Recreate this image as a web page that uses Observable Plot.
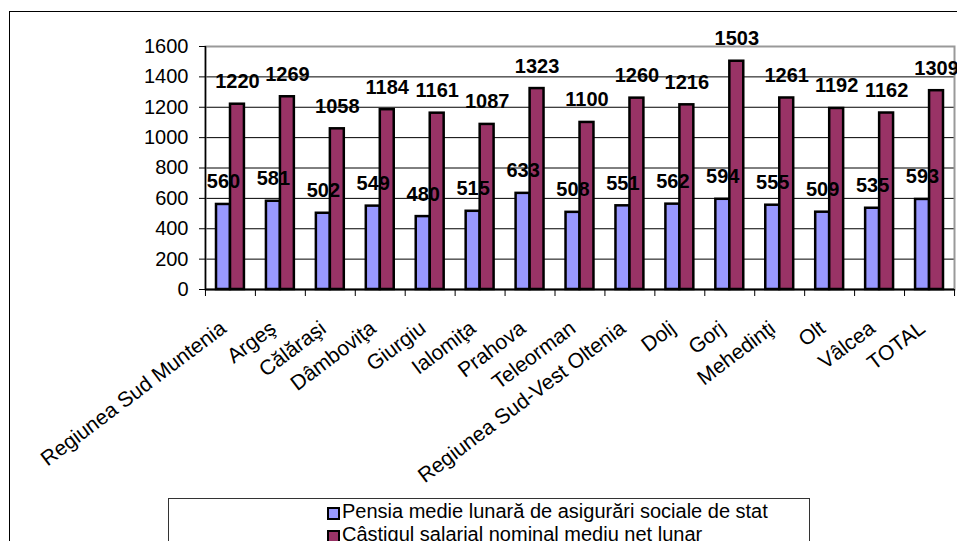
<!DOCTYPE html>
<html><head><meta charset="utf-8">
<script src="https://cdn.jsdelivr.net/npm/d3@7"></script>
<script src="https://cdn.jsdelivr.net/npm/@observablehq/plot@0.6"></script>
<style>
body{margin:0;background:#fff;overflow:hidden;font-family:Arial,"Liberation Sans",sans-serif;}
#wrap{position:relative;width:957px;height:541px;overflow:hidden;}
#chart{position:absolute;left:0;top:0;}
#border{position:absolute;left:9px;top:11px;width:1000px;height:600px;border:1.5px solid #000;box-sizing:border-box;}
#legend{position:absolute;left:168px;top:498px;width:640px;height:80px;border:1px solid #333;background:#fff;}
.txt{position:absolute;left:173px;font-size:20px;line-height:23px;white-space:nowrap;color:#000;}
.sw{position:absolute;left:158px;width:13px;height:13px;border:2px solid #000;box-sizing:border-box;}
</style>
</head><body>
<div id="wrap">
  <div id="border"></div>
  <div id="chart"></div>
  <div id="legend"></div>
</div>
<script>
const categories = ["Regiunea Sud Muntenia","Argeş","Călăraşi","Dâmboviţa","Giurgiu","Ialomiţa","Prahova","Teleorman","Regiunea Sud-Vest Oltenia","Dolj","Gorj","Mehedinţi","Olt","Vâlcea","TOTAL"];
const pensie = [560,581,502,549,480,515,633,508,551,562,594,555,509,535,593];
const salariu = [1220,1269,1058,1184,1161,1087,1323,1100,1260,1216,1503,1261,1192,1162,1309];
const seriesNames = ["Pensia medie lunară de asigurări sociale de stat","Câştigul salarial nominal mediu net lunar"];
const seriesColors = ["#9999FF","#993366"];
const yTicks = [0,200,400,600,800,1000,1200,1400,1600];

const rowsP = categories.map((c,i)=>({cat:c, v:pensie[i]}));
const rowsS = categories.map((c,i)=>({cat:c, v:salariu[i]}));

const H = 541;
const chart = Plot.plot({
  width: 957, height: H,
  marginLeft: 205, marginRight: 3, marginTop: 46, marginBottom: H-289,
  style:{fontFamily:"Arial, 'Liberation Sans', sans-serif", fontSize:"20px", background:"transparent", color:"#000"},
  x:{domain:categories, padding:0, round:false, axis:null},
  y:{domain:[0,1600], axis:null},
  marks:[
    Plot.gridY(yTicks, {stroke:"#000", strokeOpacity:1, strokeWidth:1}),
    Plot.frame({stroke:"#999", strokeWidth:2}),
    Plot.barY(rowsP, {x:"cat", y:"v", fill:seriesColors[0], stroke:"#000", strokeWidth:2.5, insetLeft:11, insetRight:25}),
    Plot.barY(rowsS, {x:"cat", y:"v", fill:seriesColors[1], stroke:"#000", strokeWidth:2.5, insetLeft:25, insetRight:11}),
    Plot.ruleY([0], {stroke:"#000", strokeWidth:2}),
    Plot.ruleX([categories[0]], {dx:-25, stroke:"#000", strokeWidth:1.5}),
    Plot.axisY({ticks:yTicks, tickSize:6, tickPadding:11, fontSize:20, tickFormat:d=>String(d), label:null}),
    Plot.axisX({tickSize:7, tickFormat:()=>"", dx:-25, label:null}),
    Plot.axisX([categories[categories.length-1]], {tickSize:7, tickFormat:()=>"", dx:25, label:null}),
    Plot.axisX({tickSize:0, tickRotate:-37, fontSize:21, dx:-7, dy:24, label:null}),
    Plot.text(rowsP, {x:"cat", y:"v", text:d=>String(d.v), dx:-7, dy:-16, lineAnchor:"bottom", fontWeight:"bold", fontSize:20, fill:"#000"}),
    Plot.text(rowsS, {x:"cat", y:"v", text:d=>String(d.v), dx:7, dy:-16, lineAnchor:"bottom", fontWeight:"bold", fontSize:20, fill:"#000"})
  ]
});
document.getElementById("chart").appendChild(chart);

const lg = document.getElementById("legend");
seriesNames.forEach((name,i)=>{
  const sw = document.createElement("div");
  sw.className = "sw"; sw.style.top = (8 + 23*i) + "px"; sw.style.background = seriesColors[i];
  const t = document.createElement("div");
  t.className = "txt"; t.style.top = (1 + 23*i) + "px"; t.textContent = name;
  lg.appendChild(sw); lg.appendChild(t);
});
</script>
</body></html>
